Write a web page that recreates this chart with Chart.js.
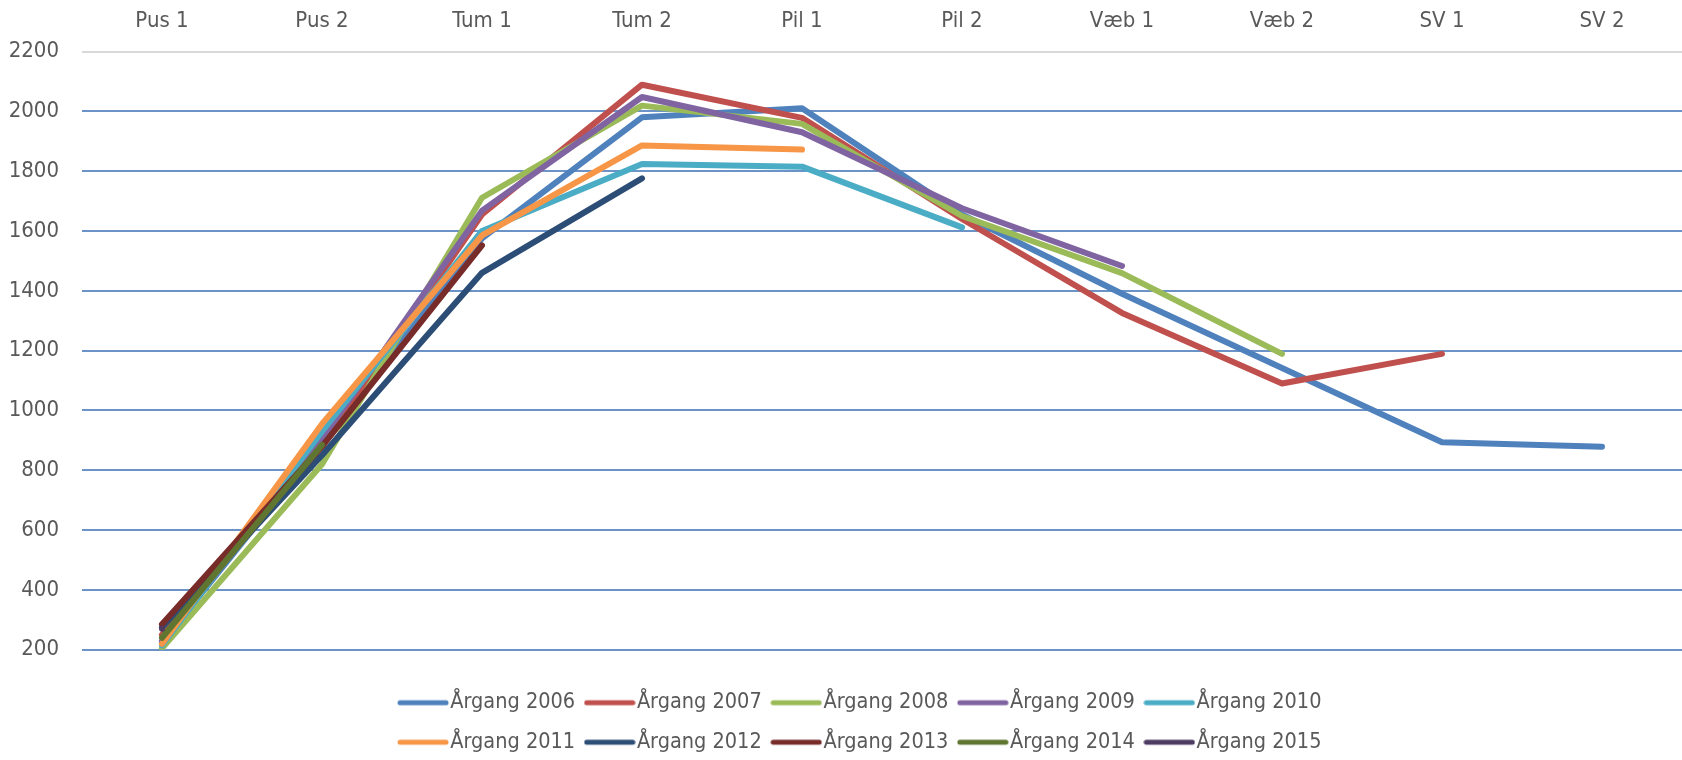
<!DOCTYPE html>
<html>
<head>
<meta charset="utf-8">
<script src="https://cdn.jsdelivr.net/npm/chart.js@4/dist/chart.umd.min.js"></script>
<style>
  body { margin: 0; overflow: hidden; background: #fff; }
  #wrap { position: absolute; left: 0; top: 0; width: 1682px; height: 763px; }
</style>
</head>
<body>
<div id="wrap"><canvas id="chart"></canvas></div>
<script>
const categories = ['Pus 1', 'Pus 2', 'Tum 1', 'Tum 2', 'Pil 1', 'Pil 2', 'Væb 1', 'Væb 2', 'SV 1', 'SV 2']

const seriesNames = ['Årgang 2006', 'Årgang 2007', 'Årgang 2008', 'Årgang 2009', 'Årgang 2010',
  'Årgang 2011', 'Årgang 2012', 'Årgang 2013', 'Årgang 2014', 'Årgang 2015']

const aargang2006 = [225, 890, 1575, 1980, 2010, 1655, 1390, 1142, 894, 879]
const aargang2007 = [250, 880, 1655, 2089, 1978, 1640, 1326, 1090, 1189]
const aargang2008 = [205, 820, 1711, 2019, 1958, 1650, 1459, 1189]
const aargang2009 = [230, 905, 1668, 2048, 1930, 1676, 1483]
const aargang2010 = [215, 930, 1600, 1824, 1815, 1612]
const aargang2011 = [220, 955, 1585, 1886, 1872]
const aargang2012 = [275, 850, 1460, 1776]
const aargang2013 = [285, 880, 1552]
const aargang2014 = [240, 885]
const aargang2015 = [270]

const seriesValues = [aargang2006, aargang2007, aargang2008, aargang2009, aargang2010,
  aargang2011, aargang2012, aargang2013, aargang2014, aargang2015]

const colors = ['#4f81bd', '#c0504d', '#9bbb59', '#8064a2', '#4bacc6',
  '#f79646', '#2c4d75', '#772c2a', '#5f7530', '#4d3b62']

const yTicks = [200, 400, 600, 800, 1000, 1200, 1400, 1600, 1800, 2000, 2200]

const font = "'DejaVu Sans Condensed', 'Liberation Sans Narrow', sans-serif"
const textColor = '#595959'

// little line swatches for the legend, a bit longer than the legend box
const legendSwatch = (color) => {
  const c = document.createElement('canvas')
  c.width = 52
  c.height = 8
  const g = c.getContext('2d')
  g.strokeStyle = color
  g.lineWidth = 5
  g.lineCap = 'round'
  g.beginPath()
  g.moveTo(3, 4)
  g.lineTo(49, 4)
  g.stroke()
  return c
}
const swatches = colors.map(legendSwatch)

// put the legend in two rows of five, centred like the original
const legendLayout = {
  id: 'legendLayout',
  afterLayout(chart) {
    const l = chart.legend
    if (!l) return
    l.maxWidth = 1000
    l.fit()
    l.left = 364
    l.right = 1364
  }
}

new Chart(document.getElementById('chart'), {
  type: 'line',
  data: {
    labels: categories,
    datasets: seriesValues.map((vals, i) => ({
      label: seriesNames[i],
      data: vals,
      borderColor: colors[i],
      backgroundColor: colors[i],
      borderWidth: 6,
      borderCapStyle: 'round',
      borderJoinStyle: 'round',
      pointRadius: 0,
      pointHoverRadius: 0,
      tension: 0,
      order: seriesValues.length - i
    }))
  },
  options: {
    responsive: true,
    maintainAspectRatio: false,
    animation: false,
    layout: { padding: 0 },
    scales: {
      x: {
        position: 'top',
        offset: true,
        grid: { display: false },
        border: { display: false },
        ticks: { color: textColor, font: { family: font, size: 22 }, padding: 9, maxRotation: 0 },
        afterFit: (scale) => { scale.height = 51.5 }
      },
      y: {
        min: 200,
        max: 2200,
        afterBuildTicks: (scale) => { scale.ticks = yTicks.map(v => ({ value: v })) },
        grid: {
          drawTicks: false,
          lineWidth: 2,
          color: (ctx) => ctx.tick && ctx.tick.value === 2200 ? '#d9d9d9' : '#6b93c7'
        },
        border: { display: false },
        ticks: {
          color: textColor,
          font: { family: font, size: 22 },
          padding: 23,
          callback: (v) => String(v)
        },
        afterFit: (scale) => { scale.width = 82 }
      }
    },
    plugins: {
      tooltip: { enabled: false },
      legend: {
        position: 'bottom',
        title: { display: true, text: ' ', font: { size: 10, lineHeight: 1 }, padding: { top: 0, bottom: 14.25 } },
        labels: {
          color: textColor,
          font: { family: font, size: 21.5 },
          usePointStyle: true,
          pointStyleWidth: 33,
          padding: 18,
          generateLabels: (chart) => Chart.defaults.plugins.legend.labels.generateLabels(chart)
            .map(item => ({ ...item, pointStyle: swatches[item.datasetIndex] })),
          sort: (a, b) => a.datasetIndex - b.datasetIndex
        }
      }
    }
  },
  plugins: [legendLayout]
})
</script>
</body>
</html>
